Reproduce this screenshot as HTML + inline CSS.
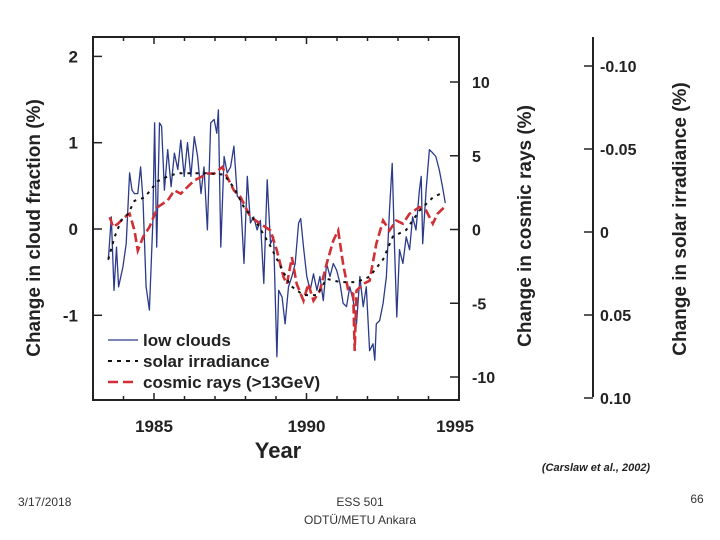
<!DOCTYPE html>
<html><head><meta charset="utf-8"><style>
body{margin:0;background:#fff;}
svg{display:block;font-family:"Liberation Sans",sans-serif;}
</style></head><body>
<svg id="chart" width="720" height="540" viewBox="0 0 720 540">
<g id="axes"></g>
<g id="series"></g>
<g>
 <line x1="108" y1="340" x2="138" y2="340" stroke="#2b3a8a" stroke-width="1.2"/>
 <text x="143" y="346" font-size="17" font-weight="bold" fill="#222">low clouds</text>
 <line x1="108" y1="361" x2="138" y2="361" stroke="#111" stroke-width="2" stroke-dasharray="4,5"/>
 <text x="143" y="367" font-size="17" font-weight="bold" fill="#222">solar irradiance</text>
 <line x1="108" y1="382" x2="138" y2="382" stroke="#d03035" stroke-width="2.5" stroke-dasharray="10,5"/>
 <text x="143" y="388" font-size="17" font-weight="bold" fill="#222">cosmic rays (&gt;13GeV)</text>
</g>
<text x="278" y="458" font-size="22" font-weight="bold" text-anchor="middle" fill="#222">Year</text>
<text transform="translate(40,228) rotate(-90)" font-size="19" font-weight="bold" text-anchor="middle" fill="#222">Change in cloud fraction (%)</text>
<text transform="translate(531,226) rotate(-90)" font-size="19" font-weight="bold" text-anchor="middle" fill="#222">Change in cosmic rays (%)</text>
<text transform="translate(686,219) rotate(-90)" font-size="19" font-weight="bold" text-anchor="middle" fill="#222">Change in solar irradiance (%)</text>
<text x="596" y="471" font-size="11" font-style="italic" font-weight="bold" text-anchor="middle" fill="#222">(Carslaw et al., 2002)</text>
<text x="18" y="506" font-size="12" fill="#333">3/17/2018</text>
<text x="360" y="506" font-size="12" text-anchor="middle" fill="#333">ESS 501</text>
<text x="360" y="524" font-size="12" text-anchor="middle" fill="#333">ODTÜ/METU Ankara</text>
<text x="697" y="503" font-size="12" text-anchor="middle" fill="#333">66</text>
</svg>
<script>
const cloudYears=[1983.50,1983.60,1983.69,1983.77,1983.84,1983.98,1984.09,1984.20,1984.28,1984.36,1984.47,1984.56,1984.64,1984.74,1984.85,1984.96,1985.02,1985.09,1985.18,1985.25,1985.34,1985.45,1985.56,1985.67,1985.78,1985.88,1985.99,1986.10,1986.21,1986.32,1986.43,1986.54,1986.64,1986.75,1986.86,1986.97,1987.06,1987.11,1987.19,1987.30,1987.40,1987.51,1987.62,1987.73,1987.84,1987.95,1988.06,1988.16,1988.27,1988.38,1988.49,1988.60,1988.71,1988.82,1988.92,1989.03,1989.09,1989.20,1989.30,1989.41,1989.52,1989.63,1989.74,1989.81,1989.90,1990.01,1990.12,1990.23,1990.34,1990.44,1990.55,1990.66,1990.77,1990.88,1990.99,1991.10,1991.20,1991.31,1991.42,1991.53,1991.64,1991.75,1991.86,1991.96,1992.07,1992.18,1992.24,1992.29,1992.40,1992.51,1992.62,1992.72,1992.81,1992.89,1992.96,1993.05,1993.16,1993.27,1993.38,1993.48,1993.59,1993.70,1993.76,1993.81,1993.92,1994.03,1994.14,1994.24,1994.35,1994.46,1994.55];
const cloudValues=[-0.36,0.14,-0.71,-0.21,-0.67,-0.44,-0.17,0.65,0.45,0.41,0.41,0.72,0.34,-0.67,-0.94,0.07,1.23,-0.21,1.23,1.19,0.45,0.92,0.49,0.88,0.69,1.03,0.61,1.00,0.61,1.07,0.84,0.41,0.72,-0.01,1.23,1.27,1.11,1.38,-0.21,0.84,0.65,0.72,0.96,0.38,0.34,-0.40,0.61,0.07,0.14,-0.01,0.10,-0.63,0.57,-0.17,-0.09,-1.48,-0.71,-0.79,-1.10,-0.67,-0.55,-0.40,0.07,0.12,-0.21,-0.55,-0.71,-0.52,-0.71,-0.55,-0.83,-0.40,-0.55,-0.40,-0.48,-0.63,-0.86,-0.90,-0.67,-0.83,-1.10,-0.55,-0.90,-0.67,-1.41,-1.33,-1.52,-1.10,-1.06,-0.86,-0.55,0.22,0.76,-0.24,-1.02,-0.24,-0.40,-0.09,-0.24,0.14,-0.01,0.45,0.61,-0.17,0.45,0.92,0.88,0.84,0.69,0.49,0.30];
const solarYears=[1983.50,1983.71,1983.93,1984.15,1984.36,1984.69,1985.12,1985.45,1985.78,1986.21,1986.75,1987.30,1987.62,1987.95,1988.38,1988.82,1989.14,1989.47,1989.90,1990.34,1990.66,1991.10,1991.64,1992.07,1992.51,1992.83,1993.27,1993.70,1994.14,1994.46];
const solarValues=[0.0165,0.0028,-0.0071,-0.011,-0.0188,-0.0208,-0.0306,-0.0335,-0.0354,-0.0354,-0.0354,-0.0345,-0.0267,-0.0149,-0.0051,0.0086,0.0204,0.0322,0.0380,0.0380,0.0282,0.0302,0.0302,0.0269,0.0165,0.0028,-0.0012,-0.0129,-0.0208,-0.0237];
const cosmicYears=[1983.55,1983.66,1983.82,1984.04,1984.20,1984.36,1984.47,1984.64,1984.85,1985.12,1985.45,1985.67,1985.88,1986.10,1986.32,1986.54,1986.75,1986.97,1987.24,1987.40,1987.62,1987.84,1988.16,1988.49,1988.82,1989.03,1989.25,1989.36,1989.52,1989.68,1989.90,1990.06,1990.23,1990.44,1990.66,1990.88,1991.04,1991.20,1991.37,1991.53,1991.58,1991.64,1991.86,1992.07,1992.29,1992.51,1992.72,1992.94,1993.16,1993.38,1993.70,1993.92,1994.14,1994.30,1994.52];
const cosmicValues=[0.84,0.16,0.39,0.84,1.07,-0.07,-1.43,-0.52,0.16,1.52,1.97,2.65,2.43,2.88,3.33,3.56,3.79,3.79,4.24,3.56,2.65,2.20,0.84,0.39,-0.07,-1.43,-3.24,-3.69,-1.88,-3.69,-4.83,-3.69,-4.83,-4.15,-2.33,-0.75,-0.07,-2.33,-4.15,-4.37,-8.23,-4.15,-3.69,-3.47,-0.97,0.61,-0.07,0.61,0.39,1.07,1.52,1.29,0.39,1.07,1.52];
const yearTicks=[1985,1990,1995];
const cloudTicks=[2,1,0,-1];
const cosmicTicks=[10,5,0,-5,-10];
const solarTicks=[-0.10,-0.05,0,0.05,0.10];
const solarTickLabels=["-0.10","-0.05","0","0.05","0.10"];

const NS="http://www.w3.org/2000/svg";
const L=93,R=459,T=37,B=400;
const xS=y=>L+(y-1983)*(R-L)/12;
const yCloud=v=>229-v*86.3;
const yCosmic=v=>229.5-v*14.75;
const ySolar=v=>232+v*1660;
function mk(tag,attrs,parent){const e=document.createElementNS(NS,tag);for(const k in attrs)e.setAttribute(k,attrs[k]);parent.appendChild(e);return e;}
const ax=document.getElementById('axes'), sr=document.getElementById('series');
const frame=mk('path',{d:`M${L},${T}H${R}V${B}H${L}Z`,fill:'none',stroke:'#222','stroke-width':2},ax);


for(let yr=1984;yr<=1994;yr++){
 const len=yearTicks.includes(yr)?7:4;
 const t1=mk('line',{x1:xS(yr),x2:xS(yr),y1:B,y2:B-len,stroke:'#222','stroke-width':1.5},ax);
 
 
 const t2=mk('line',{x1:xS(yr),x2:xS(yr),y1:T,y2:T+len,stroke:'#222','stroke-width':1.5},ax);
 
 
}
yearTicks.forEach(yr=>{
 const t=mk('text',{x:Math.min(xS(yr),455),y:432,'font-size':17,'font-weight':'bold','text-anchor':'middle',fill:'#222'},ax);
 t.textContent=yr;
 
 
});
cloudTicks.forEach(v=>{
 const l=mk('line',{x1:L,x2:L+9,y1:yCloud(v),y2:yCloud(v),stroke:'#222','stroke-width':1.5},ax);
 
 
 const t=mk('text',{x:78,y:yCloud(v)+6,'font-size':17,'font-weight':'bold','text-anchor':'end',fill:'#222'},ax);
 t.textContent=v;
 
 
});
cosmicTicks.forEach(v=>{
 const l=mk('line',{x1:R-9,x2:R,y1:yCosmic(v),y2:yCosmic(v),stroke:'#222','stroke-width':1.5},ax);
 
 
 const t=mk('text',{x:472,y:yCosmic(v)+6,'font-size':16,'font-weight':'bold',fill:'#222'},ax);
 t.textContent=v;
 
 
});
const sa=mk('line',{x1:593,x2:593,y1:37,y2:397,stroke:'#222','stroke-width':2},ax);


solarTicks.forEach((v,i)=>{
 const l=mk('line',{x1:584,x2:593,y1:ySolar(v),y2:ySolar(v),stroke:'#222','stroke-width':1.5},ax);
 
 
 const t=mk('text',{x:600,y:ySolar(v)+6,'font-size':16,'font-weight':'bold',fill:'#222'},ax);
 t.textContent=solarTickLabels[i];
 
 
});
function pts(xs,vs,f){return xs.map((x,i)=>xS(x).toFixed(1)+','+f(vs[i]).toFixed(1)).join(' ');}
const lc=mk('polyline',{points:pts(cloudYears,cloudValues,yCloud),fill:'none',stroke:'#2b3a8a','stroke-width':1.3,'stroke-linejoin':'round'},sr);


const cr=mk('polyline',{points:pts(cosmicYears,cosmicValues,yCosmic),fill:'none',stroke:'#d03035','stroke-width':2.6,'stroke-dasharray':'9,4'},sr);


const si=mk('polyline',{points:pts(solarYears,solarValues,ySolar),fill:'none',stroke:'#111','stroke-width':2,'stroke-dasharray':'3,5'},sr);


</script>
</body></html>
